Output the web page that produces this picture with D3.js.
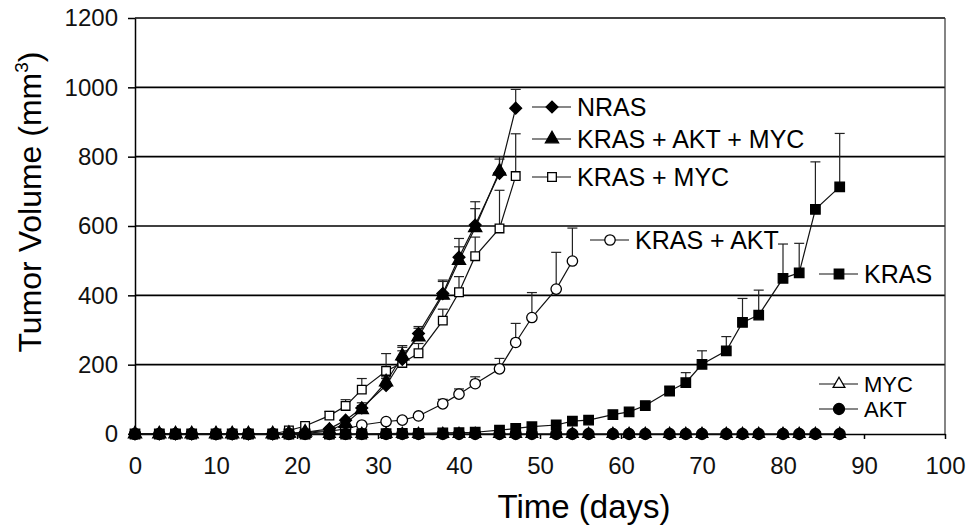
<!DOCTYPE html>
<html>
<head>
<meta charset="utf-8">
<script src="https://cdn.jsdelivr.net/npm/d3@7"></script>
<style>
  body { margin: 0; background: #fff; }
  svg { font-family: "Liberation Sans", Arial, sans-serif; }
  .axis path, .axis line { stroke: #000; stroke-width: 1.5; }
  .axis text { font-size: 24px; fill: #111; }
</style>
</head>
<body>
<svg id="chart" width="972" height="530"></svg>
<script>
// measurement days (shared schedule)
const days = [0,3,5,7,10,12,14,17,19,21,24,26,28,31,33,35,38,40,42,45,47,49,52,54,56,59,61,63,66,68,70,73,75,77,80,82,84,87];

// mean tumour volume (mm3) per group, indexed like days
const nras      = [0,0,0,0,0,0,0,0,2,5,15,40,75,140,215,290,405,510,603,752,940];
const nrasErr   = [0,0,0,0,0,0,0,0,0,0,0,0,15,20,35,20,39,54,67,48,54];
const kamyc     = [0,0,0,0,0,0,0,0,2,5,10,30,70,150,225,280,400,500,595,758];
const kamycErr  = [0,0,0,0,0,0,0,0,0,0,0,0,12,15,30,25,40,40,55,35];
const kmyc      = [0,0,0,0,0,0,0,0,10,23,53,81,128,182,205,233,327,409,513,593,744];
const kmycErr   = [0,0,0,0,0,0,0,0,0,8,12,18,32,50,35,28,33,45,55,110,122];
const kakt      = [0,0,0,0,0,0,0,0,0,2,8,15,26,36,40,52,87,115,145,188,264,336,418,499];
const kaktErr   = [0,0,0,0,0,0,0,0,0,0,0,0,0,0,0,0,13,15,20,30,55,72,106,95];
const kras      = [0,0,0,0,0,0,0,0,0,0,0,0,0,1,2,2,3,4,5,11,16,21,26,37,40,56,64,82,124,148,201,240,322,343,449,465,648,713];
const krasErr   = [0,0,0,0,0,0,0,0,0,0,0,0,0,0,0,0,0,0,0,0,0,0,0,0,0,0,0,8,12,29,39,41,69,72,99,85,137,154];
const myc       = [0,0,0,0,0,0,0,0,0,0,0,0,0,0,0,0,0,0,0,0,0,0,0,0,0,0,0,0,0,0,0,0,0,0,0,0,0,0];
const akt       = [0,0,0,0,0,0,0,0,0,0,0,0,0,0,0,0,0,0,0,0,0,0,0,0,0,0,0,0,0,0,0,0,0,0,0,0,0,0];

const xTicks = [0,10,20,30,40,50,60,70,80,90,100];
const yTicks = [0,200,400,600,800,1000,1200];

// rot: rotate the symbol (square turned 45deg = Excel diamond)
const series = [
  {name: "KRAS + AKT", vals: kakt, err: kaktErr, sym: d3.symbolCircle, size: 85, fill: "#fff", rot: 0},
  {name: "KRAS + MYC", vals: kmyc, err: kmycErr, sym: d3.symbolSquare, size: 75, fill: "#fff", rot: 0},
  {name: "KRAS", vals: kras, err: krasErr, sym: d3.symbolSquare, size: 90, fill: "#000", rot: 0},
  {name: "MYC", vals: myc, err: null, sym: d3.symbolTriangle, size: 60, fill: "#fff", rot: 0},
  {name: "AKT", vals: akt, err: null, sym: d3.symbolCircle, size: 95, fill: "#000", rot: 0},
  {name: "KRAS + AKT + MYC", vals: kamyc, err: kamycErr, sym: d3.symbolTriangle, size: 75, fill: "#000", rot: 0},
  {name: "NRAS", vals: nras, err: nrasErr, sym: d3.symbolSquare, size: 70, fill: "#000", rot: 45}
];

// where each inline label sits (glyph start x, centre y, font size)
const labelPos = {
  "NRAS": [532, 107, 25], "KRAS + AKT + MYC": [532, 139, 25], "KRAS + MYC": [532, 177, 25],
  "KRAS + AKT": [590, 240, 25], "KRAS": [819, 274, 25], "MYC": [819, 384, 22], "AKT": [819, 409, 22]
};

const svg = d3.select("#chart");
const x = d3.scaleLinear().domain([0, 100]).range([135, 945]);
const y = d3.scaleLinear().domain([0, 1200]).range([434, 18]);

// grid lines + frame
svg.append("g").selectAll("line")
  .data(yTicks.filter(d => d > 0))
  .enter().append("line")
    .attr("x1", x(0)).attr("x2", x(100))
    .attr("y1", d => y(d)).attr("y2", d => y(d))
    .attr("stroke", "#000").attr("stroke-width", 1.6);
svg.append("line")
  .attr("x1", x(100)).attr("x2", x(100)).attr("y1", y(0)).attr("y2", y(1200))
  .attr("stroke", "#333").attr("stroke-width", 1.2);

svg.append("g").attr("class", "axis")
  .attr("transform", `translate(0,${y(0)})`)
  .call(d3.axisBottom(x).tickValues(xTicks).tickSize(5).tickPadding(18).tickSizeOuter(0));

svg.append("g").attr("class", "axis")
  .attr("transform", `translate(${x(0)},0)`)
  .call(d3.axisLeft(y).tickValues(yTicks).tickFormat(d3.format("d"))
    .tickSize(7).tickPadding(10).tickSizeOuter(0));

// error bars (upper only)
series.filter(s => s.err).forEach(s => {
  const pts = s.vals.map((v, i) => ({d: days[i], v: v, e: s.err[i]})).filter(p => p.e > 0);
  const g = svg.append("g").attr("stroke", "#222").attr("stroke-width", 1.2);
  g.selectAll(".eb").data(pts).enter().append("line")
    .attr("x1", p => x(p.d)).attr("x2", p => x(p.d))
    .attr("y1", p => y(p.v)).attr("y2", p => y(p.v + p.e));
  g.selectAll(".cap").data(pts).enter().append("line")
    .attr("x1", p => x(p.d) - 5).attr("x2", p => x(p.d) + 5)
    .attr("y1", p => y(p.v + p.e)).attr("y2", p => y(p.v + p.e));
});

const line = d3.line().x(p => x(p.d)).y(p => y(p.v));

series.forEach(s => {
  const pts = s.vals.map((v, i) => ({d: days[i], v: v}));
  svg.append("path").datum(pts)
    .attr("d", line).attr("fill", "none")
    .attr("stroke", "#111").attr("stroke-width", 1.2);
});

series.forEach(s => {
  const pts = s.vals.map((v, i) => ({d: days[i], v: v}));
  svg.append("g").selectAll("path").data(pts).enter().append("path")
    .attr("d", d3.symbol().type(s.sym).size(s.size))
    .attr("transform", p => `translate(${x(p.d)},${y(p.v)}) rotate(${s.rot})`)
    .attr("fill", s.fill).attr("stroke", "#000").attr("stroke-width", 1.3);
});

// inline legend labels
series.forEach(s => {
  const [lx, ly, fs] = labelPos[s.name];
  const g = svg.append("g").attr("transform", `translate(${lx},${ly})`);
  g.append("line").attr("x1", 0).attr("x2", 39).attr("y1", 0).attr("y2", 0)
    .attr("stroke", "#111").attr("stroke-width", 1.2);
  g.append("path").attr("d", d3.symbol().type(s.sym).size(s.size))
    .attr("transform", `translate(20,0) rotate(${s.rot})`)
    .attr("fill", s.fill).attr("stroke", "#000").attr("stroke-width", 1.3);
  g.append("text").attr("x", 45).attr("dy", "0.36em")
    .attr("font-size", fs).attr("fill", "#000").text(s.name);
});

// axis titles
svg.append("text")
  .attr("x", 584).attr("y", 518)
  .attr("text-anchor", "middle").attr("font-size", 33)
  .text("Time (days)");

const yt = svg.append("text")
  .attr("transform", "translate(41,202) rotate(-90)")
  .attr("text-anchor", "middle").attr("font-size", 32);
yt.append("tspan").text("Tumor Volume (mm");
yt.append("tspan").attr("font-size", 19).attr("dy", -13).text("3");
yt.append("tspan").attr("dy", 13).text(")");
</script>
</body>
</html>
